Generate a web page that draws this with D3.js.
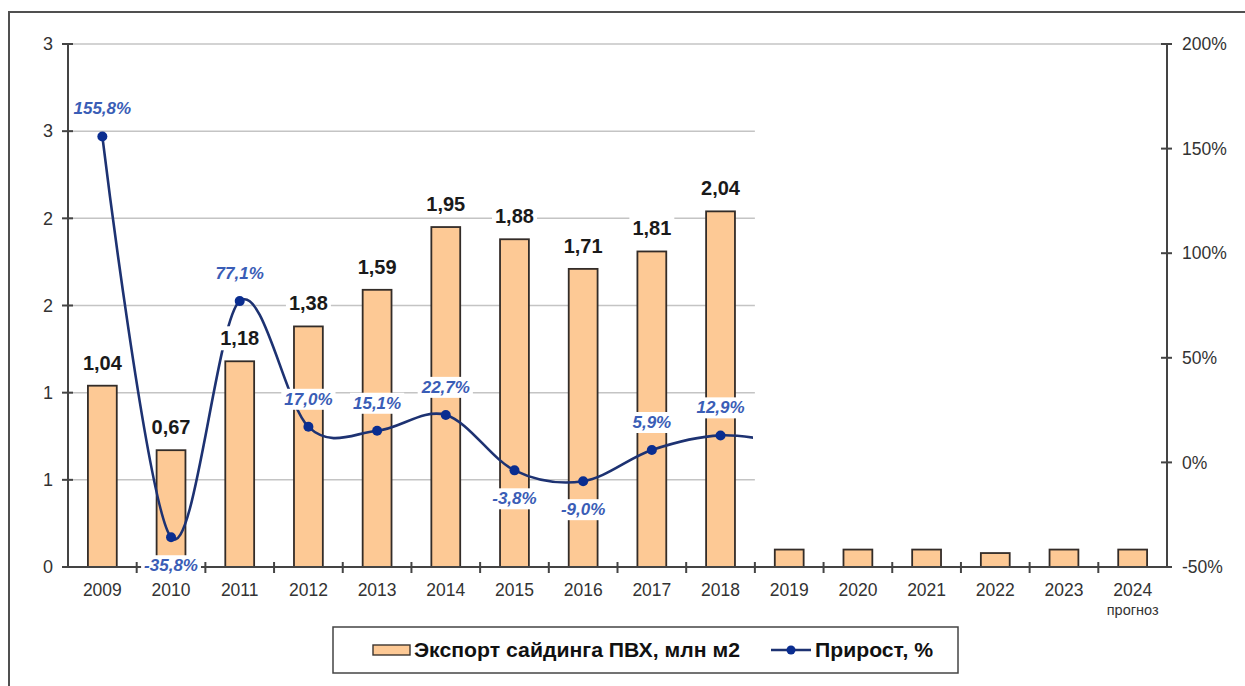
<!DOCTYPE html>
<html><head><meta charset="utf-8">
<script src="https://cdn.jsdelivr.net/npm/d3@7"></script>
<style>html,body{margin:0;padding:0;background:#fff;}svg{display:block;}</style>
</head><body>
<svg id="chart" width="1245" height="686"></svg>
<script>
const years = ["2009","2010","2011","2012","2013","2014","2015","2016","2017","2018","2019","2020","2021","2022","2023","2024"];
const exportValues = [1.04,0.67,1.18,1.38,1.59,1.95,1.88,1.71,1.81,2.04,0.10,0.10,0.10,0.08,0.10,0.10];
const exportLabels = ["1,04","0,67","1,18","1,38","1,59","1,95","1,88","1,71","1,81","2,04",null,null,null,null,null,null];
// growth, %; 2019 value is hidden behind the masked forecast area (only the curve tail shows)
const growthValues = [155.8,-35.8,77.1,17.0,15.1,22.7,-3.8,-9.0,5.9,12.9,9.0,null,null,null,null,null];
const growthLabels = ["155,8%","-35,8%","77,1%","17,0%","15,1%","22,7%","-3,8%","-9,0%","5,9%","12,9%"];
const leftTicks = [0,0.5,1,1.5,2,2.5,3];
const leftTickLabels = ["0","1","1","2","2","3","3"];
const rightTicks = [-50,0,50,100,150,200];
const rightTickLabels = ["-50%","0%","50%","100%","150%","200%"];
const visibleUntil = "2018";
const legendBarText = "Экспорт сайдинга ПВХ, млн м2";
const legendLineText = "Прирост, %";
const forecastNote = "прогноз";

const svg = d3.select("#chart");
const FONT = "'Liberation Sans', Arial, sans-serif";
const x0 = 68, x1 = 1167, yTop = 44, yBot = 567;

const x = d3.scaleBand().domain(years).range([x0, x1]).paddingInner(0).paddingOuter(0);
const yL = d3.scaleLinear().domain([0,3]).range([yBot, yTop]);
const yR = d3.scaleLinear().domain([-50,200]).range([yBot, yTop]);

// outer frame
svg.append("rect").attr("x",9).attr("y",12).attr("width",1400).attr("height",800)
  .attr("fill","none").attr("stroke","#505050").attr("stroke-width",2);

const cutX = x(years[years.indexOf(visibleUntil)+1]);

// gridlines
svg.append("g").selectAll("line").data(leftTicks.filter(d=>d>0)).join("line")
  .attr("x1", x0).attr("x2", d => d === 3 ? x1 : cutX)
  .attr("y1", d => yL(d)).attr("y2", d => yL(d))
  .attr("stroke","#c4c4c4").attr("stroke-width",1.5);

// bars
const bw = x.bandwidth()*0.42;
svg.append("g").selectAll("rect").data(years).join("rect")
  .attr("x", (d)=> x(d) + x.bandwidth()/2 - bw/2)
  .attr("width", bw)
  .attr("y", (d,i)=> yL(exportValues[i]))
  .attr("height", (d,i)=> yBot - yL(exportValues[i]))
  .attr("fill","#fdc995").attr("stroke","#332c28").attr("stroke-width",1.8);

// line
const pts = years.map((d,i)=>({year:d, v:growthValues[i], i})).filter(p=>p.v!==null);
svg.append("clipPath").attr("id","lineClip").append("rect")
  .attr("x",0).attr("y",0).attr("width",cutX-2).attr("height",686);
const line = d3.line().x(p=>x(p.year)+x.bandwidth()/2).y(p=>yR(p.v)).curve(d3.curveCardinal.tension(0));
svg.append("path").datum(pts).attr("d",line).attr("clip-path","url(#lineClip)")
  .attr("fill","none").attr("stroke","#1d3272").attr("stroke-width",2.6);

const shown = pts.filter(p=>p.i <= years.indexOf(visibleUntil));
svg.append("g").selectAll("circle").data(shown).join("circle")
  .attr("cx",p=>x(p.year)+x.bandwidth()/2).attr("cy",p=>yR(p.v)).attr("r",5)
  .attr("fill","#0a2d90");

// axes
const axisG = svg.append("g").attr("stroke","#444").attr("stroke-width",2);
axisG.append("line").attr("x1",x0).attr("x2",x0).attr("y1",yTop).attr("y2",yBot);
axisG.append("line").attr("x1",x1).attr("x2",x1).attr("y1",yTop).attr("y2",yBot+1);
axisG.append("line").attr("x1",x0-1).attr("x2",x1).attr("y1",yBot).attr("y2",yBot);
axisG.selectAll(".lt").data(leftTicks).join("line").attr("x1",x0-6).attr("x2",x0+5)
  .attr("y1",d=>yL(d)).attr("y2",d=>yL(d));
axisG.selectAll(".rt").data(rightTicks).join("line").attr("x1",x1-6).attr("x2",x1+5)
  .attr("y1",d=>yR(d)).attr("y2",d=>yR(d));
axisG.selectAll(".xt").data(years.slice(1)).join("line").attr("x1",d=>x(d)).attr("x2",d=>x(d))
  .attr("y1",yBot-5).attr("y2",yBot+6);

svg.append("g").selectAll("text").data(leftTicks).join("text")
  .attr("x",x0-15).attr("y",d=>yL(d)).attr("dy","0.35em").attr("text-anchor","end")
  .attr("font-family",FONT).attr("font-size",18).attr("fill","#333")
  .text((d,i)=>leftTickLabels[i]);
svg.append("g").selectAll("text").data(rightTicks).join("text")
  .attr("x",x1+15).attr("y",d=>yR(d)).attr("dy","0.35em").attr("text-anchor","start")
  .attr("font-family",FONT).attr("font-size",17.5).attr("fill","#333")
  .text((d,i)=>rightTickLabels[i]);
svg.append("g").selectAll("text").data(years).join("text")
  .attr("x",d=>x(d)+x.bandwidth()/2).attr("y",yBot+29).attr("text-anchor","middle")
  .attr("font-family",FONT).attr("font-size",17.5).attr("fill","#333")
  .text(d=>d);
svg.append("text").attr("x",x("2024")+x.bandwidth()/2).attr("y",yBot+48).attr("text-anchor","middle")
  .attr("font-family",FONT).attr("font-size",14.5).attr("fill","#333").text(forecastNote);

// labels with white background
function label(g, tx, ty, txt, opts){
  const t = g.append("text").attr("x",tx).attr("y",ty).attr("dy","0.35em").attr("text-anchor","middle")
    .attr("font-family",FONT).attr("font-size",opts.size).attr("font-weight","bold")
    .attr("font-style",opts.italic?"italic":"normal").attr("fill",opts.color).text(txt);
  const bb = t.node().getBBox();
  g.insert("rect", () => t.node()).attr("x",bb.x-3).attr("y",bb.y-1).attr("width",bb.width+6).attr("height",bb.height+2).attr("fill","#fff");
}
const lg = svg.append("g");
years.forEach((d,i)=>{
  if(exportLabels[i]) label(lg, x(d)+x.bandwidth()/2, yL(exportValues[i])-23, exportLabels[i], {size:20,color:"#1a1a1a"});
});
shown.forEach(p=>{
  const above = p.v >= 0;
  label(lg, x(p.year)+x.bandwidth()/2, yR(p.v) + (above ? -28 : 28), growthLabels[p.i], {size:17,italic:true,color:"#3a5db6"});
});

// legend
const L = svg.append("g");
L.append("rect").attr("x",333).attr("y",627).attr("width",625).attr("height",46)
  .attr("fill","#fff").attr("stroke","#444").attr("stroke-width",1.5);
L.append("rect").attr("x",373).attr("y",645).attr("width",37).attr("height",10)
  .attr("fill","#fdc995").attr("stroke","#3c3530").attr("stroke-width",1.4);
L.append("text").attr("x",414).attr("y",650).attr("dy","0.35em").attr("font-family",FONT)
  .attr("font-size",21).attr("font-weight","bold").attr("fill","#111")
  .attr("textLength",326).attr("lengthAdjust","spacingAndGlyphs").text(legendBarText);
L.append("line").attr("x1",771).attr("x2",811).attr("y1",650).attr("y2",650).attr("stroke","#1d3272").attr("stroke-width",2.6);
L.append("circle").attr("cx",791).attr("cy",650).attr("r",4.5).attr("fill","#0a2d90");
L.append("text").attr("x",815).attr("y",650).attr("dy","0.35em").attr("font-family",FONT)
  .attr("font-size",21).attr("font-weight","bold").attr("fill","#111")
  .attr("textLength",118).attr("lengthAdjust","spacingAndGlyphs").text(legendLineText);
</script>
</body></html>
